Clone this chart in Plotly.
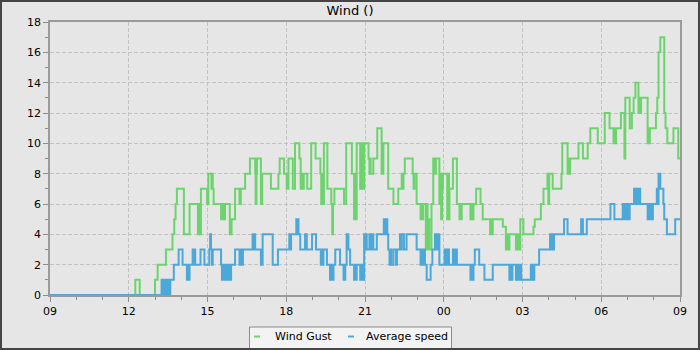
import pandas as pd
import plotly.graph_objects as go

# ---- data: change points (minutes after 09:00) and values ----
gust_min = [0, 195, 205, 240, 246, 265, 280, 284, 287, 290, 306, 319, 338, 340, 341, 343, 344, 345,
            359, 362, 369, 371, 372, 374, 391, 394, 396, 400, 411, 413, 414, 415, 423, 433, 436, 446,
            457, 469, 470, 472, 473, 482, 483, 484, 485, 505, 522, 525, 535, 541, 545, 555, 560, 570,
            573, 576, 578, 580, 588, 597, 607, 618, 620, 622, 624, 626, 634, 643, 645, 647, 650, 672,
            677, 690, 695, 697, 699, 701, 709, 711, 713, 715, 716, 718, 728, 730, 732, 733, 739, 748,
            758, 759, 760, 762, 773, 785, 796, 804, 806, 808, 811, 829, 831, 833, 838, 847, 849, 851,
            853, 859, 861, 863, 865, 867, 872, 876, 880, 882, 890, 892, 894, 896, 898, 908, 910, 912,
            913, 921, 930, 936, 938, 940, 941, 961, 963, 965, 968, 974, 984, 989, 1006, 1008, 1010,
            1012, 1035, 1042, 1044, 1046, 1050, 1065, 1067, 1069, 1072, 1074, 1075, 1082, 1105, 1108,
            1122, 1128, 1137, 1139, 1141, 1149, 1169, 1171, 1183, 1185, 1187, 1189, 1208, 1218, 1229,
            1235, 1252, 1268, 1279, 1288, 1290, 1292, 1294, 1305, 1313, 1315, 1325, 1330, 1334, 1338,
            1345, 1347, 1349, 1351, 1366, 1368, 1370, 1371, 1385, 1388, 1391, 1395, 1404, 1407, 1411,
            1425, 1436, 1440]
gust_val = [0, 1, 0, 1, 2, 3, 4, 5, 6, 7, 4, 6, 4, 6, 4, 6, 4, 7,
            6, 8, 7, 8, 7, 6, 5, 6, 5, 6, 4, 5, 4, 5, 7, 6, 7, 8,
            9, 8, 6, 8, 9, 6, 8, 6, 8, 7, 8, 9, 8, 7, 9, 7, 10, 9,
            7, 8, 7, 8, 7, 10, 9, 8, 6, 8, 6, 10, 7, 6, 4, 6, 7, 6,
            10, 8, 5, 8, 5, 10, 7, 10, 7, 10, 7, 10, 9, 8, 9, 8, 9, 11,
            8, 10, 8, 10, 7, 6, 7, 8, 7, 8, 9, 8, 7, 8, 6, 5, 6, 5,
            6, 3, 6, 3, 5, 3, 6, 9, 8, 9, 6, 8, 5, 7, 8, 5, 8, 5,
            7, 9, 6, 5, 6, 5, 6, 5, 6, 5, 6, 7, 6, 5, 4, 5, 4,
            5, 4.5, 3, 4, 3, 4, 3, 4, 3, 4, 3, 5, 4, 4.5, 5,
            6, 7, 8, 6, 8, 7, 8, 10, 8, 9, 8, 9, 10, 9, 10,
            11, 10, 12, 11, 10, 11, 10, 11, 12, 9, 13, 11, 12, 13, 14,
            12, 13, 12, 13, 10, 11, 10, 11, 12, 13, 16, 17, 12, 11, 10,
            11, 9, 9]

speed_min = [0, 255, 257, 259, 261, 263, 265, 267, 269, 271, 273, 275, 283, 294, 303, 313, 315, 317,
             319, 326, 328, 330, 332, 344, 353, 364, 366, 368, 370, 372, 391, 393, 395, 397, 399, 402,
             404, 407, 409, 411, 414, 423, 433, 435, 437, 441, 463, 465, 467, 469, 482, 486, 509, 521,
             547, 549, 551, 563, 565, 567, 568, 572, 583, 587, 599, 608, 619, 621, 623, 625, 633, 640,
             642, 644, 648, 652, 663, 671, 675, 678, 682, 686, 695, 697, 699, 701, 709, 711, 713, 715,
             716, 718, 720, 722, 724, 730, 733, 736, 739, 747, 763, 765, 767, 771, 773, 776, 778, 780,
             785, 791, 793, 800, 802, 804, 809, 815, 838, 847, 849, 851, 853, 857, 861, 870, 874, 880,
             882, 884, 886, 888, 890, 902, 904, 906, 908, 910, 912, 921, 923, 925, 927, 929, 930, 961,
             963, 965, 968, 971, 981, 993, 1012, 1050, 1052, 1054, 1057, 1065, 1067, 1069, 1071, 1073,
             1075, 1077, 1099, 1101, 1103, 1105, 1107, 1118, 1143, 1145, 1147, 1149, 1152, 1175, 1183,
             1214, 1218, 1227, 1281, 1290, 1309, 1311, 1313, 1315, 1317, 1319, 1321, 1323, 1325, 1335,
             1337, 1339, 1341, 1343, 1345, 1347, 1349, 1366, 1368, 1370, 1372, 1374, 1378, 1387, 1389,
             1391, 1395, 1402, 1404, 1410, 1429, 1440]
speed_val = [0, 1, 0, 1, 0, 1, 0, 1, 0, 1, 0, 1, 2, 3, 2, 1, 2, 1,
             2, 3, 2, 3, 2, 3, 2, 3, 4, 3, 2, 3, 2, 1, 2, 1, 2, 1,
             2, 1, 2, 1, 2, 3, 2, 3, 2, 3, 4, 3, 4, 3, 2, 4, 2, 3,
             4, 3, 4, 5, 4, 5, 4, 3, 4, 3, 4, 3, 2, 3, 2, 3, 2, 1,
             2, 1, 2, 3, 2, 1, 2, 4, 3, 2, 1, 2, 1, 2, 1, 2, 1, 2,
             1, 4, 3, 4, 3, 4, 3, 4, 3, 4, 5, 4, 5, 4, 3, 2, 3, 2,
             3, 2, 3, 4, 3, 4, 3, 4, 3, 2, 3, 2, 3, 2, 1, 2, 3, 4,
             3, 4, 3, 4, 2, 3, 2, 3, 2, 3, 2, 3, 2, 3, 2, 3, 2, 1,
             2, 1, 2, 3, 2, 1, 2, 1, 2, 1, 2, 1, 2, 1, 2, 1,
             2, 1, 2, 1, 2, 1, 2, 3, 4, 3, 4, 3, 4, 5, 4,
             5, 4, 5, 6, 5, 6, 5, 6, 5, 6, 5, 6, 5, 6, 7,
             6, 7, 6, 7, 6, 7, 6, 5, 6, 5, 6, 5, 6, 7, 6,
             8, 7, 6, 5, 4, 5, 5]

series_names = ["Wind Gust", "Average speed"]
series_colors = ["#6cd46c", "#4ba8d8"]
y_tick_vals = [0, 2, 4, 6, 8, 10, 12, 14, 16, 18]
chart_title = "Wind ()"

base = pd.Timestamp("2024-01-01 09:00")
def to_times(mins):
    return [base + pd.Timedelta(minutes=m) for m in mins]

# ---- layout geometry (px) ----
W, H = 700, 350
ML, MR, MT, MB = 50, 20, 22, 55
PW, PH = W - ML - MR, H - MT - MB
def px_x(p):
    return (p - ML) / PW
def px_y(p):
    return (H - MB - p) / PH

fig = go.Figure()
for mins, vals, name, col in [(gust_min, gust_val, series_names[0], series_colors[0]),
                              (speed_min, speed_val, series_names[1], series_colors[1])]:
    fig.add_trace(go.Scatter(x=to_times(mins), y=vals, name=name, mode="lines",
                             line=dict(color=col, width=2, shape="hv"), showlegend=False))

font = dict(family="DejaVu Sans", size=11, color="#000000")
grid = dict(showgrid=True, gridcolor="#c2c2c2", griddash="4px,2px", gridwidth=1)
fig.update_layout(
    width=W, height=H,
    margin=dict(l=ML, r=MR, t=MT, b=MB, pad=0),
    paper_bgcolor="#e6e6e6", plot_bgcolor="#e6e6e6",
    font=font,
    title=dict(text=chart_title, x=0.5, xref="container", xanchor="center",
               y=1 - 10 / H, yref="container", yanchor="middle",
               font=dict(family="DejaVu Sans", size=13, color="#000000")),
    xaxis=dict(range=[base, base + pd.Timedelta(hours=24)], type="date",
               tick0=base, dtick=3 * 3600000, tickformat="%H",
               ticks="outside", ticklen=5, tickcolor="#8c8c8c", tickwidth=1,
               minor=dict(dtick=3600000, tick0=base, ticks="outside", ticklen=3,
                          tickcolor="#8c8c8c", showgrid=False),
               showline=True, mirror=True, linecolor="#9a9a9a", linewidth=1.5,
               zeroline=False, tickfont=font, **grid),
    yaxis=dict(range=[0, 18], tickvals=y_tick_vals,
               ticks="outside", ticklen=5, tickcolor="#8c8c8c", tickwidth=1,
               minor=dict(dtick=1, ticks="outside", ticklen=3, tickcolor="#8c8c8c", showgrid=False),
               showline=True, mirror=True, linecolor="#9a9a9a", linewidth=1.5,
               zeroline=False, tickfont=font, **grid),
)

shapes = []
# outer frame
shapes.append(dict(type="rect", xref="paper", yref="paper",
                   x0=px_x(1), x1=px_x(699), y0=px_y(1), y1=px_y(349),
                   line=dict(color="#454545", width=2), fillcolor="rgba(0,0,0,0)"))
# legend box
shapes.append(dict(type="rect", xref="paper", yref="paper",
                   x0=px_x(249.5), x1=px_x(451.5), y0=px_y(327), y1=px_y(349),
                   line=dict(color="#8a8a8a", width=1), fillcolor="#f3f3f3", layer="below"))
legend_items = [(254, 273, series_names[0], series_colors[0]),
                (348, 364, series_names[1], series_colors[1])]
annotations = []
for sx, tx, name, col in legend_items:
    shapes.append(dict(type="line", xref="paper", yref="paper",
                       x0=px_x(sx), x1=px_x(sx + 6), y0=px_y(336.5), y1=px_y(336.5),
                       line=dict(color=col, width=2)))
    annotations.append(dict(text=name, xref="paper", yref="paper", x=px_x(tx), y=px_y(336.5),
                            xanchor="left", yanchor="middle", showarrow=False,
                            font=dict(family="DejaVu Sans", size=11, color="#000000")))
fig.update_layout(shapes=shapes, annotations=annotations)

fig.write_html("out.html")
